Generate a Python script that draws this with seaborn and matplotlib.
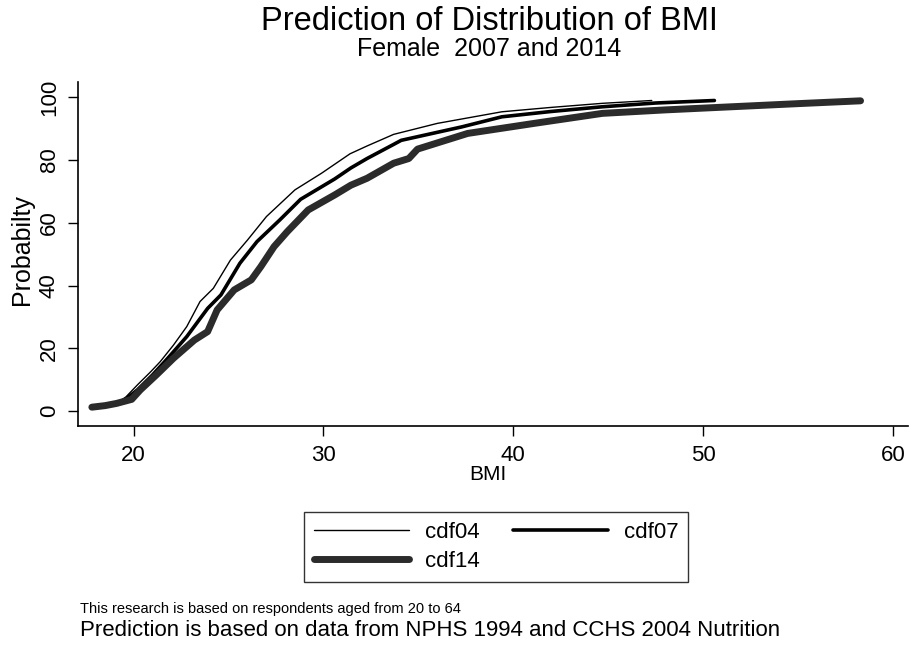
import numpy as np
import pandas as pd
import matplotlib
matplotlib.use("Agg")
import matplotlib.pyplot as plt
import seaborn as sns

# ---- data ----
bmi04 = [17.8, 18.5, 19.1, 19.6, 20.2, 20.9, 21.4, 22.1, 22.8, 23.5, 24.2, 25.1, 26.0,
         27.0, 28.5, 29.9, 31.4, 32.3, 33.7, 36.0, 39.4, 42.0, 44.7, 47.3]
p04 = [1.2, 1.7, 2.4, 4.5, 8.3, 12.5, 15.7, 21.0, 26.9, 34.9, 39.1, 48.1, 54.5,
       62.0, 70.5, 75.8, 82.0, 84.5, 88.2, 91.7, 95.4, 96.8, 98.1, 99.0]

bmi07 = [17.8, 18.5, 19.1, 19.6, 20.2, 21.0, 21.8, 22.8, 23.9, 24.6, 25.6, 26.5, 27.7,
         28.8, 30.6, 31.45, 32.3, 33.7, 34.1, 37.3, 39.4, 42.0, 44.7, 47.5, 50.6]
p07 = [1.2, 1.7, 2.4, 3.8, 6.7, 11.5, 16.8, 23.7, 32.7, 37.0, 47.1, 54.0, 60.9,
       67.5, 74.0, 77.5, 80.5, 85.0, 86.3, 90.6, 93.8, 95.5, 97.0, 98.2, 99.0]

bmi14 = [17.8, 18.5, 19.1, 19.9, 20.35, 21.2, 22.1, 23.2, 23.9, 24.4, 25.3, 26.2, 26.7,
         27.4, 28.1, 29.2, 30.6, 31.45, 32.3, 33.7, 34.5, 34.96, 37.6, 41.1, 44.7,
         48.0, 51.5, 55.0, 58.3]
p14 = [1.2, 1.7, 2.4, 3.7, 6.7, 11.5, 16.8, 22.6, 25.3, 32.2, 38.6, 41.8, 46.0,
       52.4, 57.2, 64.1, 68.9, 72.0, 74.2, 79.0, 80.5, 83.5, 88.5, 91.7, 94.9,
       96.0, 97.0, 98.0, 98.9]

series_names = ["cdf04", "cdf07", "cdf14"]
xticks = [20, 30, 40, 50, 60]
yticks = [0, 20, 40, 60, 80, 100]

title = "Prediction of Distribution of BMI"
subtitle = "Female  2007 and 2014"
note1 = "This research is based on respondents aged from 20 to 64"
note2 = "Prediction is based on data from NPHS 1994 and CCHS 2004 Nutrition"

# ---- plotting ----
sns.set_style("ticks")
plt.rcParams["font.family"] = ["Liberation Sans", "DejaVu Sans"]
for k in ("text.color", "axes.labelcolor", "xtick.color", "ytick.color",
          "axes.edgecolor"):
    plt.rcParams[k] = "black"

fig = plt.figure(figsize=(9.11, 6.53), dpi=100)
ax = fig.add_axes([78 / 911, 1 - 426 / 653, (908 - 78) / 911, (426 - 82) / 653])

styles = {
    "cdf04": dict(color="black", linewidth=1.0),
    "cdf07": dict(color="black", linewidth=2.6),
    "cdf14": dict(color="#2b2b2b", linewidth=5.0),
}
data = {"cdf04": (bmi04, p04), "cdf07": (bmi07, p07), "cdf14": (bmi14, p14)}
handles = {}
for name in series_names:
    x, y = data[name]
    df = pd.DataFrame({"BMI": x, "Probability": y})
    sns.lineplot(data=df, x="BMI", y="Probability", ax=ax, label=name,
                 solid_capstyle="round", **styles[name])
    handles[name] = ax.lines[-1]

ax.get_legend().remove()
ax.set_xlim(17.07, 60.8)
ax.set_ylim(-4.8, 104.9)
ax.set_xticks(xticks)
ax.set_yticks(yticks)
ax.tick_params(axis="both", direction="out", length=7, width=1, labelsize=16,
               color="black", labelcolor="black")
ax.tick_params(axis="x", pad=6.5)
ax.tick_params(axis="y", pad=6)
for lab in ax.get_yticklabels():
    lab.set_rotation(90)
    lab.set_va("center")
ax.spines["top"].set_visible(False)
ax.spines["right"].set_visible(False)
for s in ("left", "bottom"):
    ax.spines[s].set_color("black")
    ax.spines[s].set_linewidth(1.2)
ax.set_xlabel("BMI", fontsize=15)
ax.xaxis.set_label_coords((488 - 78) / 830, -(475 - 426) / 344)
ax.xaxis.label.set_va("center")
ax.set_ylabel("Probabilty", fontsize=18)
ax.yaxis.set_label_coords(-(78 - 22) / 830, (426 - 250) / 344)
ax.yaxis.label.set_va("center")

fig.text(489 / 911, 1 - 21 / 653, title, ha="center", va="center", fontsize=23.5)
fig.text(489 / 911, 1 - 49 / 653, subtitle, ha="center", va="center", fontsize=18)

order = ["cdf04", "cdf14", "cdf07"]
leg = fig.legend([handles[n] for n in order], order, loc="center",
                 bbox_to_anchor=(496 / 911, 1 - 547 / 653), ncol=2,
                 fontsize=16, frameon=True, fancybox=False, edgecolor="black",
                 handlelength=4.3, columnspacing=1.5, handletextpad=0.7,
                 borderpad=0.45, labelspacing=0.35, borderaxespad=0)
leg.get_frame().set_linewidth(1.0)

fig.text(80 / 911, 1 - 609 / 653, note1, ha="left", va="center", fontsize=10.5)
fig.text(80 / 911, 1 - 630 / 653, note2, ha="left", va="center", fontsize=16)

fig.savefig("out.png", dpi=100)
